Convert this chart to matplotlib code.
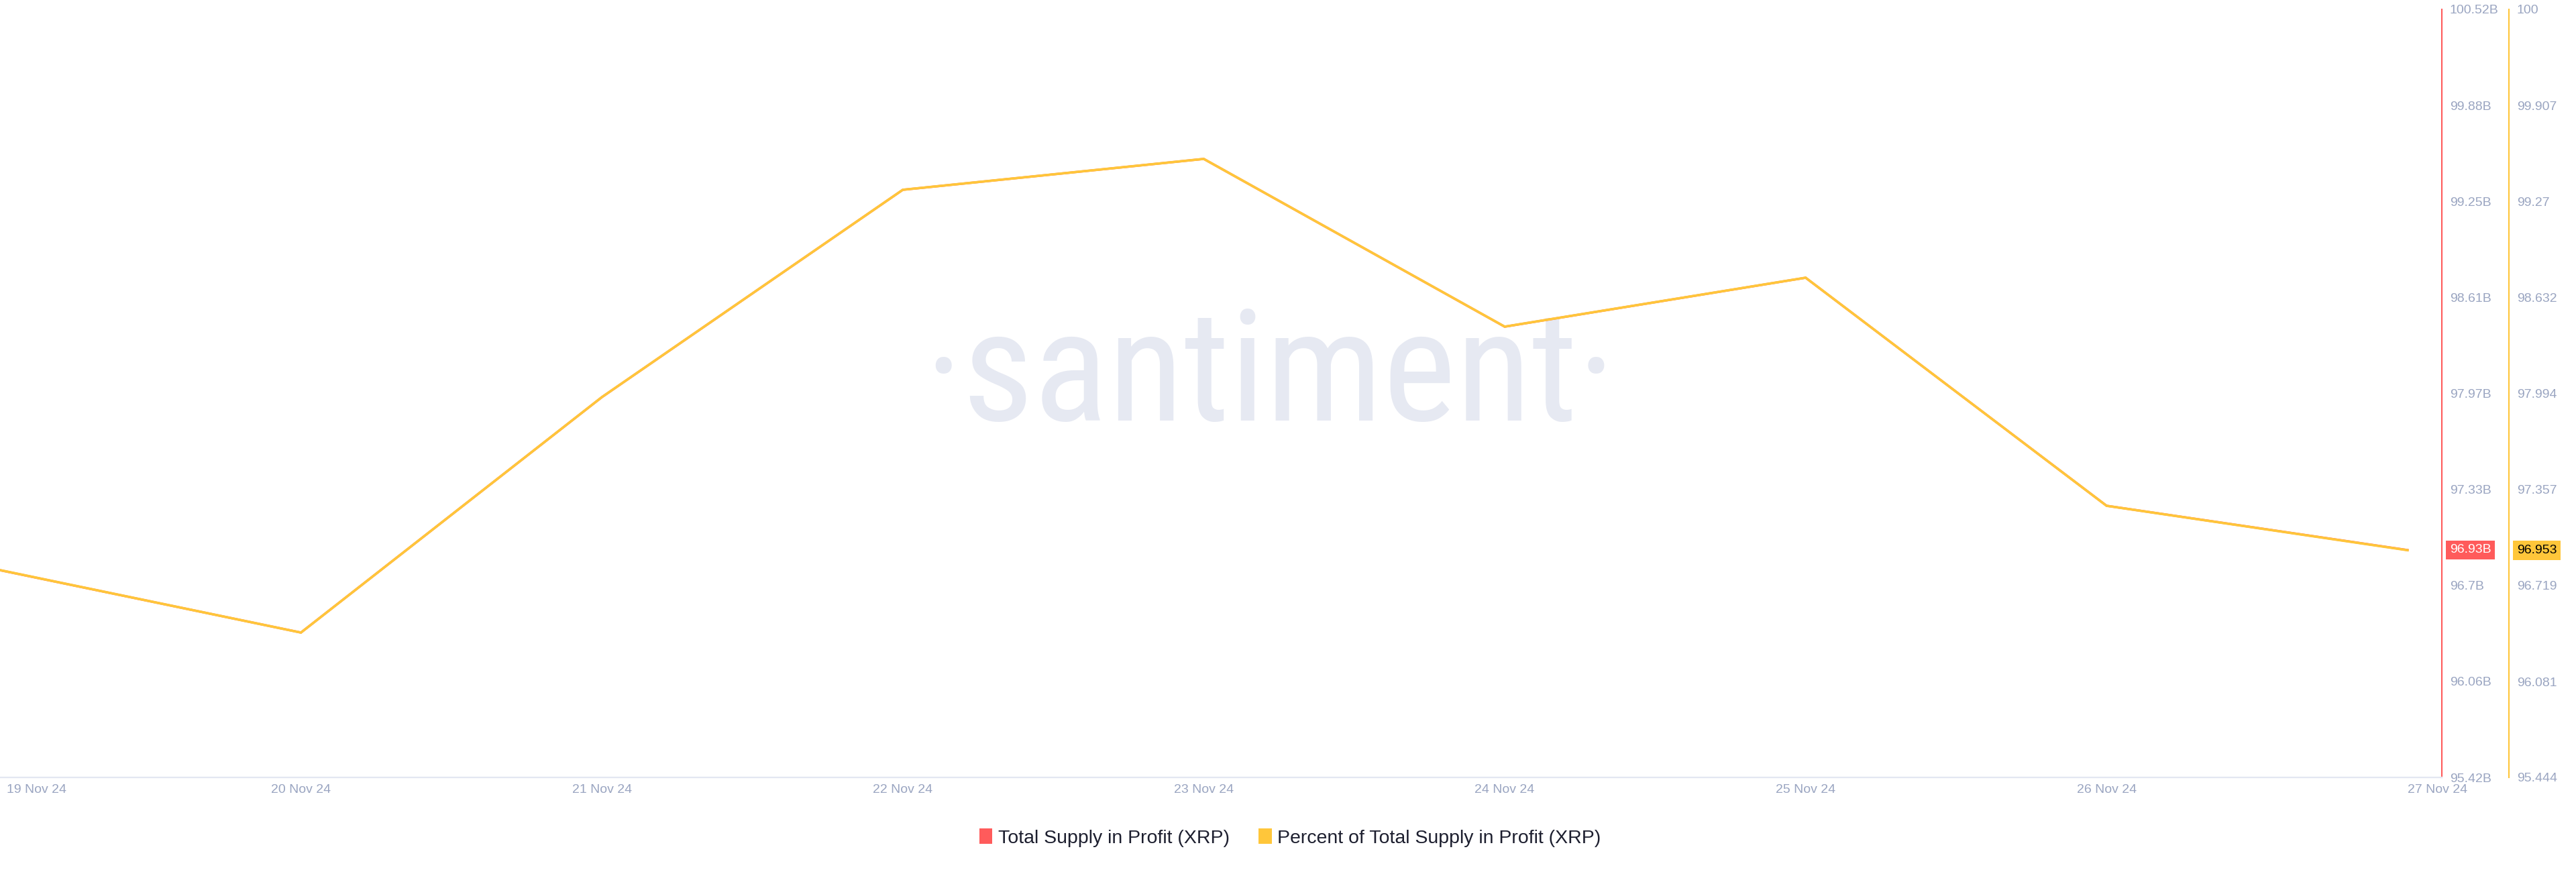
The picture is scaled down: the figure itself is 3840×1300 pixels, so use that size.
import matplotlib
matplotlib.use("Agg")
import matplotlib.pyplot as plt
from matplotlib.patches import Patch
import matplotlib.transforms as mtransforms
import matplotlib.font_manager as fm

# ---- data ----
dates = ["19 Nov 24", "20 Nov 24", "21 Nov 24", "22 Nov 24", "23 Nov 24",
         "24 Nov 24", "25 Nov 24", "26 Nov 24", "27 Nov 24"]
supply_profit_b = [96.796, 96.382, 97.945, 99.322, 99.527, 98.413, 98.738, 97.224, 96.93]
pct_supply_profit = [96.821, 96.406, 97.970, 99.347, 99.552, 98.438, 98.763, 97.248, 96.953]

red_ticks = [95.42, 96.0575, 96.695, 97.3325, 97.97, 98.6075, 99.245, 99.8825, 100.52]
red_tick_labels = ["95.42B", "96.06B", "96.7B", "97.33B", "97.97B", "98.61B", "99.25B", "99.88B", "100.52B"]
yel_ticks = [95.444, 96.081, 96.719, 97.357, 97.994, 98.632, 99.27, 99.907, 100.545]
yel_tick_labels = ["95.444", "96.081", "96.719", "97.357", "97.994", "98.632", "99.27", "99.907", "100"]

legend_labels = ["Total Supply in Profit (XRP)", "Percent of Total Supply in Profit (XRP)"]

RED = "#ff5b5b"
YEL = "#ffc63a"
TICK_C = "#9aa5c1"
FONT = ["Liberation Sans", "DejaVu Sans"]

W, H = 3840, 1300
fig = plt.figure(figsize=(W / 100, H / 100), dpi=100)
fig.patch.set_facecolor("white")
left, right, top, bottom = 0, 3640, 14, 1159
ax = fig.add_axes([left / W, 1 - bottom / H, (right - left) / W, (bottom - top) / H])
ax2 = ax.twinx()

x = list(range(len(dates)))

ax.plot(x, supply_profit_b, color=RED, lw=2.4, zorder=2, solid_joinstyle="miter")
ax2.plot(x, pct_supply_profit, color=YEL, lw=2.6, zorder=2, solid_joinstyle="miter")

ax.set_xlim(0, 8.114)
ax.set_ylim(red_ticks[0], red_ticks[-1])
ax2.set_ylim(yel_ticks[0], yel_ticks[-1])

# spines
for s in ["left", "top"]:
    ax.spines[s].set_visible(False)
ax.spines["right"].set_color(RED)
ax.spines["right"].set_linewidth(1.5)
ax.spines["bottom"].set_color("#e3e7f2")
ax.spines["bottom"].set_linewidth(1.6)
for s in ["left", "top", "bottom"]:
    ax2.spines[s].set_visible(False)
ax2.spines["right"].set_position(("outward", 72))
ax2.spines["right"].set_color(YEL)
ax2.spines["right"].set_linewidth(1.5)

# y ticks
ax.yaxis.tick_right()
ax.set_yticks(red_ticks)
ax.set_yticklabels(red_tick_labels)
ax.tick_params(axis="y", length=0, pad=8.6, labelsize=14, labelcolor=TICK_C)
ax2.set_yticks(yel_ticks)
ax2.set_yticklabels(yel_tick_labels)
ax2.tick_params(axis="y", length=0, pad=8.6, labelsize=14, labelcolor=TICK_C)
for lab in ax.get_yticklabels() + ax2.get_yticklabels():
    lab.set_fontfamily(FONT)

# x ticks
ax.set_xticks(x)
ax.set_xticklabels(dates)
ax.tick_params(axis="x", length=0, pad=7, labelsize=14, labelcolor=TICK_C)
xl = ax.get_xticklabels()
for lab in xl:
    lab.set_fontfamily(FONT)
xl[0].set_ha("left")
xl[-1].set_ha("left")
xl[0].set_transform(xl[0].get_transform() + mtransforms.ScaledTranslation(10 / 100, 0, fig.dpi_scale_trans))


# ---- watermark font: prefer a condensed sans if one is installed ----
def pick_condensed():
    prefs = ["opensans-condensed.", "opensans_condensed-regular", "opensanscondensed-regular",
             "notosans-condensed.", "robotocondensed-regular", "roboto_condensed-regular",
             "opensanscondensed-light", "notosans-condensedlight", "opensans-condensedlight",
             "robotocondensed-light", "liberationsansnarrow-regular", "dejavusanscondensed."]
    files = [f.fname for f in fm.fontManager.ttflist if f.fname]
    for p in prefs:
        for fn in files:
            base = fn.replace("\\", "/").split("/")[-1].lower()
            if base.startswith(p) or p in base:
                return fm.FontProperties(fname=fn)
    return None

wm_fp = pick_condensed()
wm_kwargs = dict(ha="center", va="baseline", color="#e6e9f2", zorder=0.5, transform=fig.transFigure)
if wm_fp is not None:
    wm = ax.text(1893 / W, 1 - 627 / H, "·santiment·", fontproperties=wm_fp, **wm_kwargs)
else:
    wm = ax.text(1893 / W, 1 - 627 / H, "·santiment·", family="DejaVu Sans", **wm_kwargs)
wm.set_fontsize(150)
fig.canvas.draw()
ext = wm.get_window_extent(fig.canvas.get_renderer())
wm.set_fontsize(150 * 1030 / ext.width)

# current value badges
ax.annotate(f"{supply_profit_b[-1]:.2f}B", xy=(1, supply_profit_b[-1]),
            xycoords=("axes fraction", "data"), xytext=(8.6, 0), textcoords="offset points",
            ha="left", va="center", fontsize=14, color="white", family=FONT,
            bbox=dict(boxstyle="square,pad=0.3", fc=RED, ec="none"), annotation_clip=False, zorder=5)
ax2.annotate(f"{pct_supply_profit[-1]:.3f}", xy=(1, pct_supply_profit[-1]),
             xycoords=("axes fraction", "data"), xytext=(72 + 8.6, 0), textcoords="offset points",
             ha="left", va="center", fontsize=14, color="black", family=FONT,
             bbox=dict(boxstyle="square,pad=0.3", fc=YEL, ec="none"), annotation_clip=False, zorder=5)

# legend
handles = [Patch(facecolor=RED, edgecolor="none"), Patch(facecolor=YEL, edgecolor="none")]
leg = fig.legend(handles, legend_labels, loc="center", bbox_to_anchor=(1923 / W, 1 - 1249 / H),
                 ncol=2, frameon=False, handlelength=0.7, handleheight=0.85,
                 handletextpad=0.3, columnspacing=1.5, prop={"family": FONT, "size": 20.5})
for t in leg.get_texts():
    t.set_color("#1d1f2f")

fig.savefig("out.png", dpi=100, facecolor="white")
